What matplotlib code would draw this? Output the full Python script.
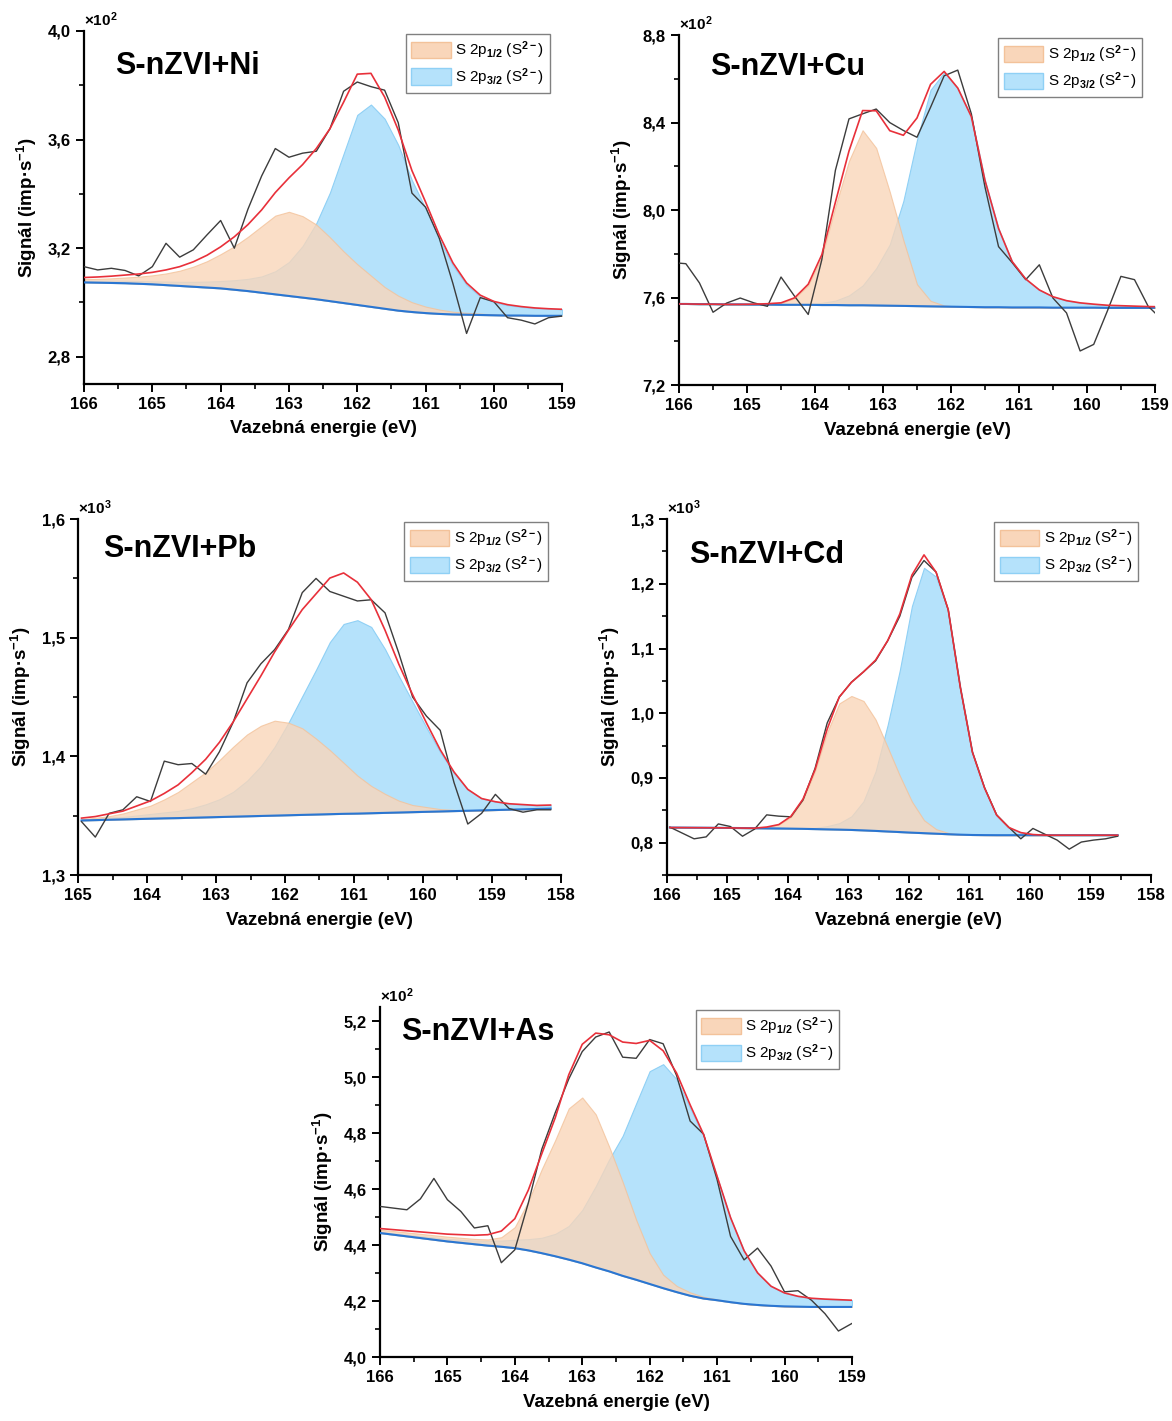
import numpy as np
import matplotlib as mpl
import matplotlib.pyplot as plt
from matplotlib.patches import Patch
from matplotlib.ticker import MultipleLocator, FuncFormatter

# colours of the fit components and lines
orange = '#f9d6ba'
orange_edge = '#f3c29a'
blue = '#b5e2fb'
blue_edge = '#8fd0f5'
red = '#e8303a'
bg_blue = '#2a76d2'
raw_grey = '#3c3c3c'

mpl.rcParams['font.family'] = 'Liberation Sans'
mpl.rcParams['font.weight'] = 'bold'
mpl.rcParams['axes.labelweight'] = 'bold'
mpl.rcParams['mathtext.fontset'] = 'custom'
mpl.rcParams['mathtext.rm'] = 'Liberation Sans'
mpl.rcParams['mathtext.it'] = 'Liberation Sans:italic'
mpl.rcParams['mathtext.bf'] = 'Liberation Sans:bold'
mpl.rcParams['axes.spines.right'] = False
mpl.rcParams['axes.spines.top'] = False
mpl.rcParams['axes.linewidth'] = 1.6

# ---------------- S-nZVI+Ni (x10^2) ----------------
ni_E = [166.0, 165.8, 165.6, 165.4, 165.2, 165.0, 164.8, 164.6, 164.4, 164.2, 164.0, 163.8,
        163.6, 163.4, 163.2, 163.0, 162.8, 162.6, 162.4, 162.2, 162.0, 161.8, 161.6, 161.4,
        161.2, 161.0, 160.8, 160.6, 160.4, 160.2, 160.0, 159.8, 159.6, 159.4, 159.2, 159.0]
ni_raw = [3.132, 3.120, 3.126, 3.118, 3.098, 3.132, 3.218, 3.167, 3.194, 3.249, 3.302, 3.200,
          3.344, 3.466, 3.567, 3.535, 3.550, 3.557, 3.640, 3.778, 3.812, 3.795, 3.782, 3.662,
          3.403, 3.351, 3.237, 3.070, 2.886, 3.018, 3.003, 2.944, 2.935, 2.921, 2.944, 2.950]
ni_bg = [3.074, 3.073, 3.072, 3.071, 3.069, 3.067, 3.064, 3.061, 3.058, 3.055, 3.052, 3.047,
         3.042, 3.036, 3.030, 3.024, 3.018, 3.012, 3.005, 2.998, 2.991, 2.984, 2.977, 2.970,
         2.965, 2.961, 2.958, 2.956, 2.955, 2.954, 2.953, 2.952, 2.952, 2.951, 2.951, 2.951]
ni_p12 = [0.012, 0.014, 0.017, 0.021, 0.026, 0.033, 0.043, 0.056, 0.074, 0.097, 0.126, 0.160,
          0.200, 0.245, 0.290, 0.310, 0.300, 0.275, 0.235, 0.190, 0.150, 0.115, 0.080, 0.055,
          0.036, 0.024, 0.016, 0.010, 0.007, 0.005, 0.003, 0.002, 0.001, 0.001, 0.0, 0.0]
ni_p32 = [0.006, 0.007, 0.008, 0.009, 0.010, 0.011, 0.013, 0.015, 0.018, 0.022, 0.027, 0.035,
          0.045, 0.060, 0.085, 0.125, 0.190, 0.280, 0.400, 0.550, 0.700, 0.745, 0.700, 0.610,
          0.485, 0.385, 0.275, 0.180, 0.110, 0.068, 0.048, 0.038, 0.032, 0.028, 0.026, 0.024]

# ---------------- S-nZVI+Cu (x10^2) ----------------
cu_E = [166.1, 165.9, 165.7, 165.5, 165.3, 165.1, 164.9, 164.7, 164.5, 164.3, 164.1, 163.9,
        163.7, 163.5, 163.3, 163.1, 162.9, 162.7, 162.5, 162.3, 162.1, 161.9, 161.7, 161.5,
        161.3, 161.1, 160.9, 160.7, 160.5, 160.3, 160.1, 159.9, 159.7, 159.5, 159.3, 159.1, 158.9]
cu_raw = [7.760, 7.755, 7.667, 7.533, 7.575, 7.598, 7.576, 7.560, 7.694, 7.606, 7.523, 7.773,
          8.182, 8.417, 8.440, 8.462, 8.400, 8.364, 8.333, 8.470, 8.614, 8.640, 8.440, 8.106,
          7.833, 7.760, 7.682, 7.750, 7.598, 7.530, 7.356, 7.386, 7.538, 7.697, 7.682, 7.561, 7.500]
cu_bg = [7.571, 7.571, 7.570, 7.570, 7.569, 7.569, 7.568, 7.568, 7.567, 7.567, 7.567, 7.566,
         7.566, 7.565, 7.565, 7.564, 7.563, 7.562, 7.561, 7.560, 7.559, 7.558, 7.557, 7.556,
         7.556, 7.555, 7.555, 7.555, 7.554, 7.554, 7.554, 7.554, 7.553, 7.553, 7.553, 7.553, 7.553]
cu_p12 = [0.0, 0.0, 0.0, 0.0, 0.0, 0.0, 0.002, 0.004, 0.008, 0.030, 0.090, 0.220,
          0.450, 0.660, 0.800, 0.720, 0.520, 0.300, 0.100, 0.025, 0.005, 0.0, 0.0, 0.0,
          0.0, 0.0, 0.0, 0.0, 0.0, 0.0, 0.0, 0.0, 0.0, 0.0, 0.0, 0.0, 0.0]
cu_p32 = [0.0, 0.0, 0.0, 0.0, 0.0, 0.0, 0.0, 0.0, 0.001, 0.002, 0.004, 0.010,
          0.020, 0.045, 0.090, 0.170, 0.280, 0.480, 0.760, 0.990, 1.070, 1.000, 0.870, 0.580,
          0.360, 0.210, 0.130, 0.080, 0.050, 0.032, 0.022, 0.016, 0.012, 0.010, 0.008, 0.006, 0.005]

# ---------------- S-nZVI+Pb (x10^3) ----------------
pb_E = [164.95, 164.75, 164.55, 164.35, 164.15, 163.95, 163.75, 163.55, 163.35, 163.15, 162.95,
        162.75, 162.55, 162.35, 162.15, 161.95, 161.75, 161.55, 161.35, 161.15, 160.95, 160.75,
        160.55, 160.35, 160.15, 159.95, 159.75, 159.55, 159.35, 159.15, 158.95, 158.75, 158.55,
        158.35, 158.15]
pb_raw = [1.345, 1.332, 1.352, 1.355, 1.366, 1.362, 1.396, 1.393, 1.394, 1.385, 1.404,
          1.429, 1.462, 1.478, 1.490, 1.507, 1.538, 1.550, 1.539, 1.535, 1.531, 1.532,
          1.521, 1.487, 1.450, 1.434, 1.422, 1.378, 1.343, 1.352, 1.368, 1.356, 1.353,
          1.355, 1.355]
pb_bg = [1.3460, 1.3463, 1.3466, 1.3469, 1.3472, 1.3475, 1.3478, 1.3480, 1.3483, 1.3486, 1.3489,
         1.3492, 1.3495, 1.3498, 1.3501, 1.3504, 1.3507, 1.3510, 1.3513, 1.3516, 1.3518, 1.3521,
         1.3524, 1.3527, 1.3530, 1.3533, 1.3536, 1.3539, 1.3542, 1.3545, 1.3548, 1.3551, 1.3554,
         1.3557, 1.3560]
pb_p12 = [0.001, 0.002, 0.003, 0.005, 0.008, 0.011, 0.016, 0.022, 0.030, 0.038, 0.048,
          0.059, 0.069, 0.076, 0.080, 0.078, 0.073, 0.064, 0.054, 0.043, 0.032, 0.023,
          0.016, 0.010, 0.006, 0.004, 0.002, 0.001, 0.0, 0.0, 0.0, 0.0, 0.0,
          0.0, 0.0]
pb_p32 = [0.001, 0.001, 0.002, 0.002, 0.003, 0.004, 0.005, 0.006, 0.008, 0.011, 0.015,
          0.021, 0.030, 0.042, 0.058, 0.078, 0.100, 0.122, 0.145, 0.160, 0.163, 0.157,
          0.138, 0.115, 0.093, 0.071, 0.050, 0.032, 0.018, 0.010, 0.007, 0.005, 0.004,
          0.003, 0.003]

# ---------------- S-nZVI+Cd (x10^3) ----------------
cd_E = [165.95, 165.75, 165.55, 165.35, 165.15, 164.95, 164.75, 164.55, 164.35, 164.15,
        163.95, 163.75, 163.55, 163.35, 163.15, 162.95, 162.75, 162.55, 162.35, 162.15,
        161.95, 161.75, 161.55, 161.35, 161.15, 160.95, 160.75, 160.55, 160.35, 160.15,
        159.95, 159.75, 159.55, 159.35, 159.15, 158.95, 158.75, 158.55]
cd_raw = [0.824, 0.815, 0.806, 0.809, 0.829, 0.825, 0.810, 0.821, 0.843, 0.841,
          0.840, 0.866, 0.915, 0.985, 1.025, 1.048, 1.064, 1.081, 1.112, 1.150,
          1.210, 1.236, 1.218, 1.160, 1.040, 0.940, 0.885, 0.843, 0.824, 0.806,
          0.822, 0.813, 0.804, 0.790, 0.801, 0.804, 0.806, 0.810]
cd_bg = [0.8234, 0.8233, 0.8232, 0.8231, 0.8230, 0.8228, 0.8226, 0.8224, 0.8222, 0.8220,
         0.8217, 0.8214, 0.8210, 0.8206, 0.8202, 0.8197, 0.8190, 0.8182, 0.8173, 0.8164,
         0.8155, 0.8147, 0.8139, 0.8131, 0.8124, 0.8119, 0.8117, 0.8116, 0.8116, 0.8116,
         0.8116, 0.8116, 0.8116, 0.8116, 0.8116, 0.8116, 0.8116, 0.8116]
cd_p12 = [0.0, 0.0, 0.0, 0.0, 0.0, 0.0, 0.0, 0.0, 0.002, 0.006,
          0.018, 0.045, 0.090, 0.150, 0.195, 0.207, 0.200, 0.172, 0.130, 0.087,
          0.048, 0.020, 0.007, 0.002, 0.0, 0.0, 0.0, 0.0, 0.0, 0.0,
          0.0, 0.0, 0.0, 0.0, 0.0, 0.0, 0.0, 0.0]
cd_p32 = [0.0, 0.0, 0.0, 0.0, 0.0, 0.0, 0.0, 0.0, 0.0, 0.0,
          0.001, 0.001, 0.002, 0.005, 0.010, 0.021, 0.045, 0.092, 0.165, 0.250,
          0.350, 0.410, 0.397, 0.345, 0.228, 0.128, 0.073, 0.031, 0.012, 0.004,
          0.001, 0.0, 0.0, 0.0, 0.0, 0.0, 0.0, 0.0]

# ---------------- S-nZVI+As (x10^2) ----------------
as_E = ni_E
as_raw = [4.538, 4.532, 4.526, 4.565, 4.638, 4.562, 4.520, 4.461, 4.469, 4.337, 4.383, 4.550,
          4.742, 4.873, 4.993, 5.091, 5.143, 5.161, 5.071, 5.067, 5.134, 5.119, 5.005, 4.843,
          4.796, 4.634, 4.431, 4.347, 4.389, 4.325, 4.233, 4.237, 4.203, 4.155, 4.093, 4.120]
as_bg = [4.443, 4.437, 4.431, 4.425, 4.419, 4.413, 4.408, 4.403, 4.398, 4.394, 4.389, 4.381,
         4.371, 4.360, 4.348, 4.335, 4.320, 4.306, 4.290, 4.276, 4.261, 4.246, 4.232, 4.219,
         4.209, 4.203, 4.196, 4.190, 4.186, 4.183, 4.181, 4.180, 4.179, 4.179, 4.179, 4.179]
as_p12 = [0.012, 0.013, 0.014, 0.015, 0.016, 0.017, 0.018, 0.019, 0.022, 0.034, 0.075, 0.175,
          0.300, 0.415, 0.540, 0.592, 0.547, 0.445, 0.335, 0.214, 0.110, 0.048, 0.022, 0.012,
          0.006, 0.003, 0.002, 0.0, 0.0, 0.0, 0.0, 0.0, 0.0, 0.0, 0.0, 0.0]
as_p32 = [0.004, 0.005, 0.006, 0.007, 0.008, 0.009, 0.011, 0.013, 0.017, 0.022, 0.030, 0.040,
          0.055, 0.080, 0.120, 0.190, 0.290, 0.400, 0.500, 0.630, 0.760, 0.800, 0.760, 0.670,
          0.580, 0.440, 0.300, 0.190, 0.115, 0.070, 0.048, 0.037, 0.031, 0.028, 0.026, 0.024]

panels = [
    # name, data, axes rect, xlim, ylim, y step, multiplier, title pos
    ('S-nZVI+Ni', (ni_E, ni_raw, ni_bg, ni_p12, ni_p32), [0.0717, 0.7298, 0.408, 0.2484],
     (166, 159), (2.7, 4.0), 0.4, '2', (0.065, 0.90)),
    ('S-nZVI+Cu', (cu_E, cu_raw, cu_bg, cu_p12, cu_p32), [0.5794, 0.7290, 0.406, 0.2463],
     (166, 159), (7.2, 8.8), 0.4, '2', (0.065, 0.91)),
    ('S-nZVI+Pb', (pb_E, pb_raw, pb_bg, pb_p12, pb_p32), [0.0666, 0.3842, 0.412, 0.2505],
     (165, 158), (1.3, 1.6), 0.1, '3', (0.052, 0.915)),
    ('S-nZVI+Cd', (cd_E, cd_raw, cd_bg, cd_p12, cd_p32), [0.5690, 0.3842, 0.413, 0.2505],
     (166, 158), (0.75, 1.3), 0.1, '3', (0.045, 0.90)),
    ('S-nZVI+As', (as_E, as_raw, as_bg, as_p12, as_p32), [0.3242, 0.0450, 0.4027, 0.2463],
     (166, 159), (4.0, 5.25), 0.2, '2', (0.044, 0.93)),
]

comma = FuncFormatter(lambda v, p: f'{v:.1f}'.replace('.', ','))

fig = plt.figure(figsize=(11.72, 14.21), dpi=100)

for name, data, rect, xlim, ylim, ystep, power, tpos in panels:
    E, raw, bg, p12, p32 = [np.array(d) for d in data]
    ax = fig.add_axes(rect)

    # blue component first, orange drawn over it (semi-transparent)
    ax.fill_between(E, bg, bg + p32, fc=blue, ec=blue_edge, lw=0.8, zorder=1)
    ax.fill_between(E, bg, bg + p12, fc=orange, ec=orange_edge, lw=0.8, alpha=0.8, zorder=2)
    ax.plot(E, bg, color=bg_blue, lw=1.5, zorder=3)
    ax.plot(E, raw, color=raw_grey, lw=1.0, zorder=4)
    ax.plot(E, bg + p12 + p32, color=red, lw=1.2, zorder=5)

    ax.set_xlim(*xlim)
    ax.set_ylim(*ylim)
    ax.xaxis.set_major_locator(MultipleLocator(1))
    ax.xaxis.set_minor_locator(MultipleLocator(0.5))
    ax.yaxis.set_major_locator(MultipleLocator(ystep))
    ax.yaxis.set_minor_locator(MultipleLocator(ystep / 2))
    ax.yaxis.set_major_formatter(comma)
    ax.tick_params(which='major', length=6, width=1.4, labelsize=12, direction='out')
    ax.tick_params(which='minor', length=3.5, width=1.2, direction='out')

    ax.set_xlabel('Vazebná energie (eV)', fontsize=13.5, labelpad=6)
    ax.set_ylabel(r'Signál (imp·s$^{\mathbf{-1}}$)', fontsize=13.5, labelpad=6)
    ax.text(tpos[0], tpos[1], name, transform=ax.transAxes, fontsize=22,
            fontweight='bold', ha='left', va='center')
    ax.text(0.0, 1.005, r'×10$^{%s}$' % power, transform=ax.transAxes,
            fontsize=11, ha='left', va='bottom')

    handles = [Patch(facecolor=orange, edgecolor=orange_edge),
               Patch(facecolor=blue, edgecolor=blue_edge)]
    labels = [r'S 2p$_{1/2}$ (S$^{2-}$)', r'S 2p$_{3/2}$ (S$^{2-}$)']
    leg = ax.legend(handles, labels, loc='upper right', bbox_to_anchor=(0.98, 1.0),
                    prop={'weight': 'normal', 'size': 11}, fancybox=False,
                    edgecolor='#808080', framealpha=1, handlelength=2.6,
                    handleheight=1.3, borderpad=0.35, labelspacing=0.35,
                    handletextpad=0.3, borderaxespad=0.2)
    leg.get_frame().set_linewidth(1.0)

plt.savefig('out.png', dpi=100)
